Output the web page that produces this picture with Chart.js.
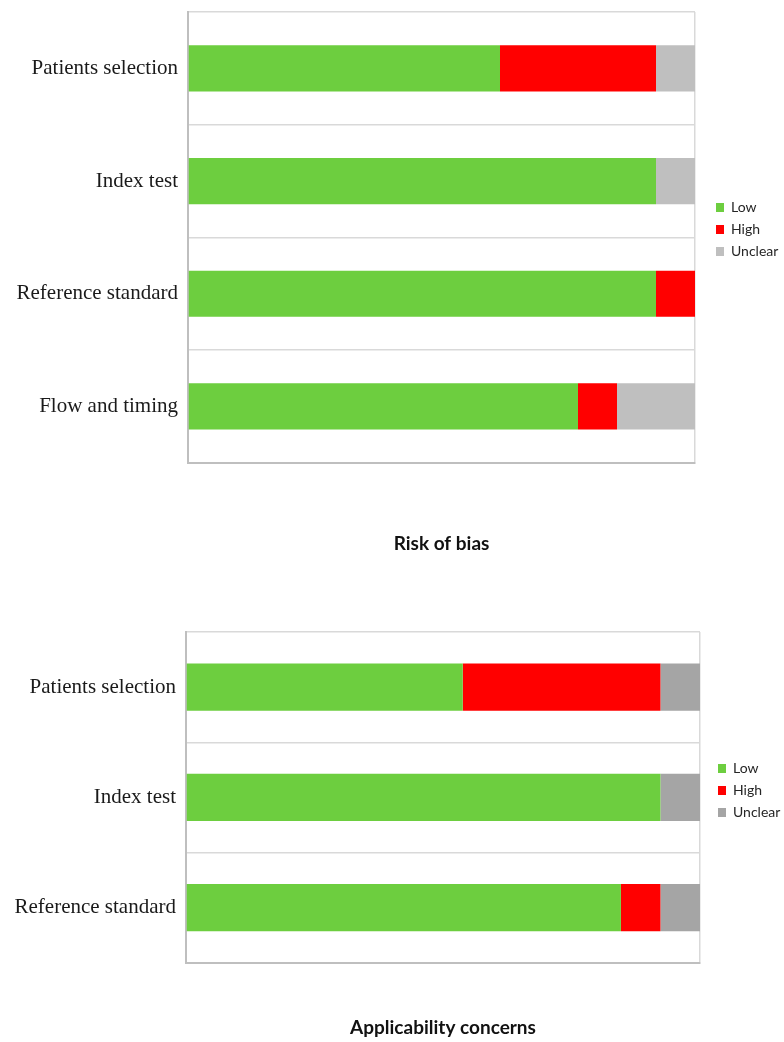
<!DOCTYPE html>
<html>
<head>
<meta charset="utf-8">
<script src="https://cdn.jsdelivr.net/npm/chart.js@4/dist/chart.umd.min.js"></script>
<style>
  html, body { margin: 0; padding: 0; background: #ffffff; overflow: hidden; width: 784px; height: 1042px; }
  .wrap { position: absolute; left: 0; width: 784px; }
  #w1 { top: -20px; height: 600px; }
  #w2 { top: 600px; height: 442px; }
</style>
</head>
<body>
<div class="wrap" id="w1"><canvas id="c1"></canvas></div>
<div class="wrap" id="w2"><canvas id="c2"></canvas></div>
<script>
// ---- data (number of studies, total 13) ----
const seriesNames = ['Low', 'High', 'Unclear'];
const biasCategories = ['Patients selection', 'Index test', 'Reference standard', 'Flow and timing'];
const biasLow = [8, 12, 12, 10];
const biasHigh = [4, 0, 1, 1];
const biasUnclear = [1, 1, 0, 2];
const applCategories = ['Patients selection', 'Index test', 'Reference standard'];
const applLow = [7, 12, 11];
const applHigh = [5, 0, 1];
const applUnclear = [1, 1, 1];
const totalStudies = 13;
const titles = ['Risk of bias', 'Applicability concerns'];

const GREEN = '#6DCE3F', RED = '#FF0000';

// shift legend position after layout
function legendShift(dx, dy) {
  return {
    id: 'legendShift',
    afterLayout(chart) {
      const lg = chart.legend;
      if (!lg) return;
      const left = chart.chartArea.right + dx;
      lg.left = left; lg.right = left + lg.width;
      lg.top += dy; lg.bottom += dy;
    }
  };
}

function makeChart(id, cats, low, high, unclear, unclearColor, title, cfg) {
  const ctx = document.getElementById(id);
  const chart = new Chart(ctx, {
    type: 'bar',
    data: {
      labels: cats,
      datasets: [
        { label: seriesNames[0], data: low, backgroundColor: GREEN },
        { label: seriesNames[1], data: high, backgroundColor: RED },
        { label: seriesNames[2], data: unclear, backgroundColor: unclearColor }
      ]
    },
    options: {
      indexAxis: 'y',
      responsive: true,
      maintainAspectRatio: false,
      animation: false,
      datasets: { bar: { categoryPercentage: 1, barPercentage: cfg.barPct, borderWidth: 0 } },
      layout: { padding: { top: cfg.padTop, left: 0, right: 30, bottom: 0 } },
      scales: {
        x: {
          stacked: true, min: 0, max: totalStudies,
          ticks: { display: false, stepSize: 1 },
          grid: {
            drawTicks: false,
            color: (c) => (c.tick && c.tick.value === totalStudies) ? '#D9D9D9' : 'rgba(0,0,0,0)',
            lineWidth: 1.5
          },
          border: { display: true, color: '#BFBFBF', width: 2 }
        },
        y: {
          stacked: true,
          afterFit: (s) => { s.width = cfg.left; },
          ticks: {
            padding: 10,
            color: '#1a1a1a',
            font: { family: '"Liberation Serif", "Times New Roman", serif', size: 21 }
          },
          grid: { drawTicks: false, color: '#D9D9D9', lineWidth: 1.5, offset: true },
          border: { display: true, color: '#BFBFBF', width: 2 }
        }
      },
      plugins: {
        legend: {
          position: 'right',
          fullSize: false,
          labels: {
            boxWidth: 8, boxHeight: 9, padding: 8,
            color: '#262626',
            font: { family: 'Lato, "Open Sans", sans-serif', size: 14 }
          }
        },
        title: {
          display: true,
          text: title,
          position: 'bottom',
          fullSize: false,
          color: '#111111',
          font: { family: 'Lato, "Open Sans", sans-serif', size: 19, weight: 'bold', lineHeight: 1.2 },
          padding: { top: cfg.titleTop, bottom: cfg.titleBottom }
        },
        tooltip: { enabled: false }
      }
    },
    plugins: [legendShift(cfg.legDx, cfg.legDy)]
  });
  // adjust right padding so that plot area ends at the wanted x
  const pr = Math.max(0, 784 - cfg.right - chart.legend.width);
  chart.options.layout.padding.right = pr;
  chart.update();
  return chart;
}

makeChart('c1', biasCategories, biasLow, biasHigh, biasUnclear, '#BFBFBF', titles[0],
  { barPct: 0.41, padTop: 32, left: 188, right: 695, titleTop: 70, titleBottom: 24.4, legDx: 13, legDy: -8 });
makeChart('c2', applCategories, applLow, applHigh, applUnclear, '#A5A5A5', titles[1],
  { barPct: 0.43, padTop: 32, left: 186, right: 700, titleTop: 54, titleBottom: 2.4, legDx: 10, legDy: -7 });
</script>
</body>
</html>
